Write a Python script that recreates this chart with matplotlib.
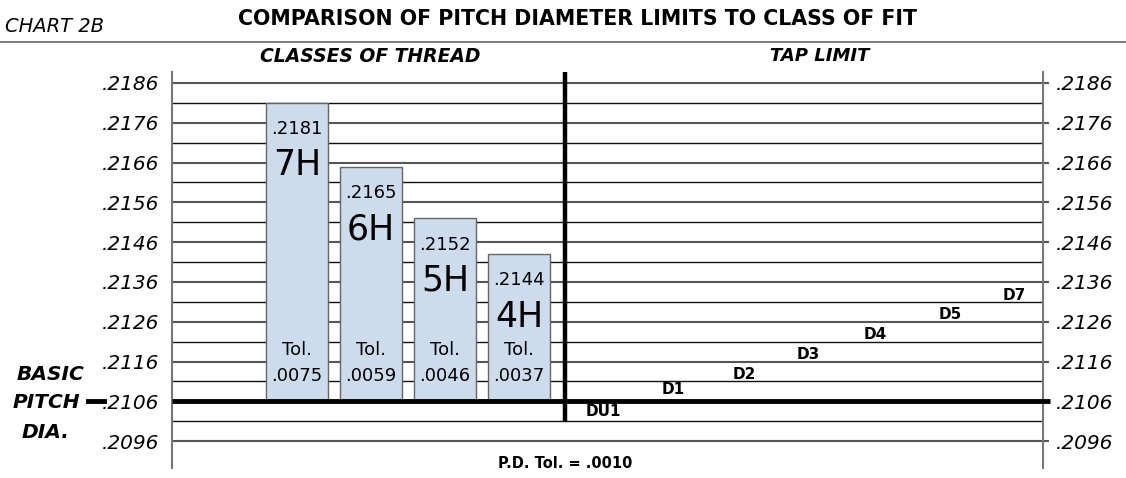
import matplotlib
matplotlib.use("Agg")
import matplotlib.pyplot as plt
import matplotlib.transforms as mtransforms
from matplotlib.lines import Line2D

plt.rcParams["font.family"] = ["DejaVu Sans"]

# ── data ────────────────────────────────────────────────────────────────
BASIC_PD = 0.2106
classes = ["7H", "6H", "5H", "4H"]
tolerances = [0.0075, 0.0059, 0.0046, 0.0037]
upper_limits = [".2181", ".2165", ".2152", ".2144"]
tol_labels = [".0075", ".0059", ".0046", ".0037"]

tick_values = [0.2096, 0.2106, 0.2116, 0.2126, 0.2136, 0.2146,
               0.2156, 0.2166, 0.2176, 0.2186]
tick_labels = [".2096", ".2106", ".2116", ".2126", ".2136", ".2146",
               ".2156", ".2166", ".2176", ".2186"]
minor_values = [0.2101, 0.2111, 0.2121, 0.2131, 0.2141, 0.2151,
                0.2161, 0.2171, 0.2181]

tap_limits = ["DU1", "D1", "D2", "D3", "D4", "D5", "D7"]
tap_x = [4.14, 5.08, 6.05, 6.91, 7.81, 8.82, 9.69]
tap_y = [0.21035, 0.2109, 0.21128, 0.21178, 0.21228, 0.21278, 0.21325]

DIVIDER_X = 3.62

# ── figure ──────────────────────────────────────────────────────────────
fig = plt.figure(figsize=(11.26, 4.78), dpi=100)
ax = fig.add_axes([0.1528, 0.0209, 0.7735, 0.8285])
ax.set_xlim(-1.689, 10.08)
ax.set_ylim(0.208925, 0.218875)

# grid lines
for v in tick_values:
    ax.hlines(v, 0, 1.007, transform=ax.get_yaxis_transform(),
              color="#555555", lw=1.5, zorder=1, clip_on=False)
for v in minor_values:
    ax.axhline(v, color="#111111", lw=1.0, zorder=1)

# bars
x = list(range(len(classes)))
ax.bar(x, tolerances, bottom=BASIC_PD, width=0.84, color="#cddcec",
       edgecolor="#666666", linewidth=1.0, zorder=2)

for xi, tol, up, cls, tl in zip(x, tolerances, upper_limits, classes, tol_labels):
    top = BASIC_PD + tol
    ax.annotate(up, (xi, top), xytext=(0, -19), textcoords="offset points",
                ha="center", va="center", fontsize=13, zorder=4)
    ax.annotate(cls, (xi, top), xytext=(0, -45), textcoords="offset points",
                ha="center", va="center", fontsize=25, zorder=4)
    ax.annotate("Tol.", (xi, BASIC_PD), xytext=(0, 37), textcoords="offset points",
                ha="center", va="center", fontsize=13, zorder=4)
    ax.annotate(tl, (xi, BASIC_PD), xytext=(0, 18), textcoords="offset points",
                ha="center", va="center", fontsize=13, zorder=4)

# basic pitch diameter line and divider
ax.hlines(BASIC_PD, 0, 1.008, transform=ax.get_yaxis_transform(),
          color="black", lw=3.5, zorder=5, clip_on=False)
ax.vlines(DIVIDER_X, 0.2101, 0.218875, color="black", lw=3.2, zorder=5,
          clip_on=False)

# tap limits
for name, tx, ty in zip(tap_limits, tap_x, tap_y):
    ax.text(tx, ty, name, ha="center", va="center", fontsize=11,
            fontweight="bold", zorder=6)

# axes styling
for side in ("top", "bottom"):
    ax.spines[side].set_visible(False)
for side in ("left", "right"):
    ax.spines[side].set_color("#777777")
    ax.spines[side].set_linewidth(1.5)
ax.set_xticks([])
ax.set_yticks(tick_values)
ax.set_yticklabels(tick_labels)
ax.yaxis.set_ticks_position("both")
ax.tick_params(axis="y", left=False, right=False, labelleft=True,
               labelright=True, labelsize=14.5, pad=6)
for t in ax.yaxis.get_major_ticks():
    t.label1.set_fontstyle("italic")
    t.label2.set_fontstyle("italic")

# headings
fig.text(0.004, 1 - 27 / 478, "CHART 2B", fontsize=14, fontstyle="italic",
         ha="left", va="center")
fig.text(577 / 1126, 1 - 19 / 478,
         "COMPARISON OF PITCH DIAMETER LIMITS TO CLASS OF FIT",
         fontsize=14.8, fontweight="bold", ha="center", va="center")
fig.add_artist(Line2D([0, 1], [1 - 42 / 478] * 2, color="#666666", lw=1.2))
fig.text(370 / 1126, 1 - 56 / 478, "CLASSES OF THREAD", fontsize=13.5,
         fontweight="bold", fontstyle="italic", ha="center", va="center")
fig.text(820 / 1126, 1 - 56 / 478, "TAP LIMIT", fontsize=13,
         fontweight="bold", fontstyle="italic", ha="center", va="center")

# basic pitch dia. label
fig.text(50 / 1126, 1 - 374 / 478, "BASIC", fontsize=14.5, fontweight="bold",
         fontstyle="italic", ha="center", va="center")
fig.text(46 / 1126, 1 - 403 / 478, "PITCH", fontsize=14.5, fontweight="bold",
         fontstyle="italic", ha="center", va="center")
fig.text(46 / 1126, 1 - 433 / 478, "DIA.", fontsize=14.5, fontweight="bold",
         fontstyle="italic", ha="center", va="center")
blend = mtransforms.blended_transform_factory(fig.transFigure, ax.transData)
fig.add_artist(Line2D([88 / 1126, 104 / 1126], [BASIC_PD, BASIC_PD],
                      transform=blend, color="black", lw=3.5))

ax.text(DIVIDER_X, 0.2096, "P.D. Tol. = .0010", ha="center", va="center",
        fontsize=10.5, fontweight="bold",
        transform=mtransforms.offset_copy(ax.transData, fig=fig, y=-16, units="points"))

fig.savefig("out.png", dpi=100)
